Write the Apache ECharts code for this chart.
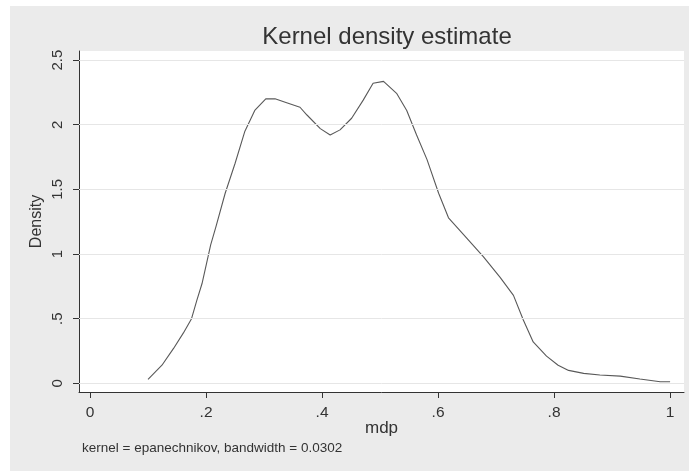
<!DOCTYPE html>
<html>
<head>
<meta charset="utf-8">
<script src="https://cdn.jsdelivr.net/npm/echarts@6/dist/echarts.min.js"></script>
<style>
  body { margin: 0; background: #ffffff; }
  #backdrop { position: absolute; left: 10px; top: 6px; width: 679px; height: 465px; background: #ebebeb; }
  #main { position: absolute; left: 0; top: 0; width: 689px; height: 471px; }
</style>
</head>
<body>
<div id="backdrop"></div>
<div id="main"></div>
<script>
// kernel density curve
var mdpValues = [0.100, 0.124, 0.144, 0.161, 0.175, 0.184, 0.193, 0.201, 0.208, 0.217,
    0.233, 0.250, 0.267, 0.284, 0.303, 0.319, 0.339, 0.362, 0.374, 0.397,
    0.414, 0.431, 0.451, 0.471, 0.488, 0.506, 0.529, 0.546, 0.563, 0.581,
    0.601, 0.618, 0.644, 0.678, 0.707, 0.730, 0.747, 0.764, 0.787, 0.807,
    0.825, 0.851, 0.879, 0.914, 0.948, 0.983, 1.000];
var densityValues = [0.03, 0.14, 0.27, 0.39, 0.50, 0.64, 0.77, 0.93, 1.07, 1.21,
    1.47, 1.70, 1.95, 2.11, 2.20, 2.20, 2.17, 2.135, 2.075, 1.97,
    1.92, 1.96, 2.05, 2.19, 2.32, 2.335, 2.24, 2.11, 1.92, 1.73,
    1.47, 1.28, 1.15, 0.98, 0.82, 0.68, 0.49, 0.32, 0.21, 0.14,
    0.10, 0.077, 0.064, 0.056, 0.033, 0.012, 0.012];

var xTicks = [0, 0.2, 0.4, 0.6, 0.8, 1];
var xTickLabels = ['0', '.2', '.4', '.6', '.8', '1'];
var yTicks = [0, 0.5, 1, 1.5, 2, 2.5];
var yTickLabels = ['0', '.5', '1', '1.5', '2', '2.5'];

var titleText = 'Kernel density estimate';
var noteText = 'kernel = epanechnikov, bandwidth = 0.0302';

var font = 'Liberation Sans, Arial, sans-serif';
var textColor = '#333333';

function tickLabel(ticks, labels) {
    return function (v) {
        for (var i = 0; i < ticks.length; i++) {
            if (Math.abs(ticks[i] - v) < 1e-6) return labels[i];
        }
        return '';
    };
}

var curve = [];
for (var i = 0; i < mdpValues.length; i++) {
    curve.push([mdpValues[i], densityValues[i]]);
}

var chart = echarts.init(document.getElementById('main'), null, { renderer: 'canvas' });
chart.setOption({
    backgroundColor: 'transparent',
    animation: false,
    title: {
        text: titleText,
        left: 382,
        textAlign: 'center',
        top: 20,
        textStyle: { fontFamily: font, fontSize: 24, fontWeight: 'normal', color: textColor }
    },
    graphic: [{
        type: 'text',
        left: 82,
        top: 441,
        style: { text: noteText, font: '13.5px ' + font, fill: textColor }
    }],
    grid: {
        left: 79, right: 5, top: 51, bottom: 79,
        show: true, backgroundColor: '#ffffff', borderWidth: 0
    },
    xAxis: {
        type: 'value',
        min: -0.019, max: 1.024,
        name: 'mdp',
        nameLocation: 'middle',
        nameGap: 28,
        nameMoveOverlap: false,
        nameTextStyle: { fontFamily: font, fontSize: 17, color: textColor },
        axisLine: { show: true, onZero: false, lineStyle: { color: '#333333', width: 1 } },
        axisTick: { show: true, customValues: xTicks, length: 6, lineStyle: { color: '#333333' } },
        axisLabel: {
            customValues: xTicks,
            formatter: tickLabel(xTicks, xTickLabels),
            margin: 13,
            fontFamily: font, fontSize: 15.5, color: textColor
        },
        splitLine: { show: false }
    },
    yAxis: {
        type: 'value',
        min: -0.067, max: 2.57,
        name: 'Density',
        nameLocation: 'middle',
        nameGap: 34,
        nameMoveOverlap: false,
        nameTextStyle: { fontFamily: font, fontSize: 16, color: textColor },
        axisLine: { show: true, onZero: false, lineStyle: { color: '#333333', width: 1 } },
        axisTick: { show: true, customValues: yTicks, length: 6, lineStyle: { color: '#333333' } },
        axisLabel: {
            customValues: yTicks,
            formatter: tickLabel(yTicks, yTickLabels),
            rotate: 90,
            margin: 14,
            fontFamily: font, fontSize: 15, color: textColor
        },
        splitLine: { show: false }
    },
    series: [{
        name: 'grid',
        type: 'line',
        data: [],
        z: 1,
        silent: true,
        markLine: {
            silent: true,
            symbol: 'none',
            label: { show: false },
            lineStyle: { color: '#e6e6e6', width: 1, type: 'solid' },
            data: yTicks.map(function (v) { return { yAxis: v }; })
        }
    }, {
        name: 'density',
        type: 'line',
        data: curve,
        z: 2,
        showSymbol: false,
        smooth: false,
        lineStyle: { color: '#595959', width: 1.1 }
    }]
});
</script>
</body>
</html>
